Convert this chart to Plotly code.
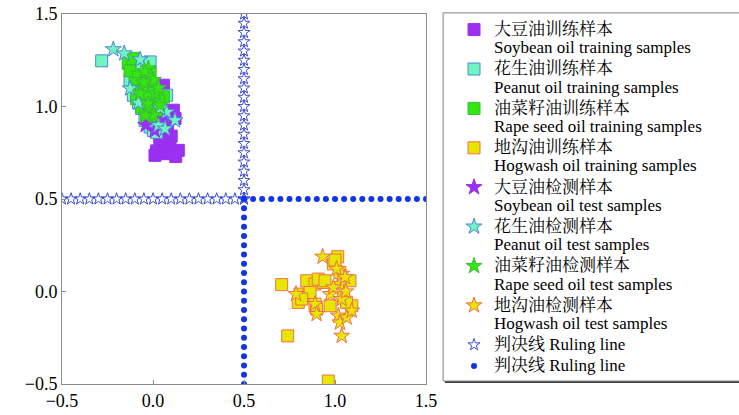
import plotly.graph_objects as go

# ---------------- data ----------------
soy_train_x = [0.057, 0.112, 0.121, 0.011, 0.038, 0.093, 0.075, 0.139, 0.011, 0.066, 0.038, 0.057, 0.100, 0.125, 0.030, 0.080, 0.020]
soy_train_y = [1.115, 0.980, 0.935, 0.889, 0.835, 0.817, 0.763, 0.763, 0.736, 0.745, 0.799, 1.070, 0.840, 0.730, 0.920, 0.900, 0.760]

pea_train_x = [-0.282, -0.126, -0.108, -0.062, -0.044, -0.016, 0.075, -0.099, -0.016, 0.002, -0.080, 0.030, 0.050, -0.030, 0.020]
pea_train_y = [1.247, 1.142, 1.061, 0.989, 0.925, 0.889, 1.061, 1.224, 1.241, 0.871, 1.020, 1.000, 0.950, 1.130, 0.860]

rape_train_x = [-0.136, -0.126, -0.081, -0.099, -0.062, -0.044, 0.057, -0.062, -0.007, -0.035, 0.020, -0.016, -0.044, 0.002, -0.090, -0.110, 0.030, -0.020]
rape_train_y = [1.233, 1.193, 1.160, 1.124, 1.088, 1.043, 1.052, 0.998, 0.998, 0.943, 0.953, 1.179, 1.124, 1.106, 1.043, 1.260, 1.030, 1.070]

hog_train_x = [0.707, 0.740, 0.963, 1.015, 0.991, 0.845, 0.890, 0.808, 0.853, 0.890, 1.082, 1.092, 0.973, 0.936, 1.046, 1.064, 0.908, 1.027, 0.798, 1.000, 0.863, 0.817, 0.899, 0.945]
hog_train_y = [0.037, -0.240, -0.484, 0.188, 0.149, 0.058, 0.040, -0.014, -0.023, -0.068, 0.058, -0.077, -0.077, 0.049, -0.032, -0.059, 0.067, 0.103, -0.059, 0.170, -0.005, -0.041, -0.095, 0.058]

soy_test_x = [-0.040, 0.010, 0.060]
soy_test_y = [0.900, 0.870, 0.930]

pea_test_x = [-0.218, -0.158, -0.071, -0.126, 0.075, 0.121, 0.029, 0.066, 0.040, -0.080]
pea_test_y = [1.309, 1.287, 1.254, 1.097, 0.970, 0.925, 0.898, 0.880, 0.990, 1.020]

rape_test_x = [-0.026, -0.046, 0.002, -0.071, 0.011, -0.026, 0.002, -0.040, 0.038, -0.050, 0.030]
rape_test_y = [1.206, 1.190, 1.142, 1.070, 1.070, 1.016, 0.953, 0.950, 1.007, 1.130, 1.100]

hog_test_x = [0.932, 1.037, 0.786, 0.890, 0.899, 0.973, 1.027, 1.037, 1.018, 1.027, 1.064, 1.092, 1.037, 1.009, 1.055, 0.991, 1.060]
hog_test_y = [0.188, -0.240, -0.014, -0.068, -0.122, -0.014, 0.040, -0.041, -0.131, -0.168, -0.141, -0.104, 0.095, 0.122, 0.077, 0.022, 0.000]

# ruling line (open stars): vertical x=0.5 for y in [0.5,1.5], horizontal y=0.5 for x in [-0.5,0.5]
rule_seg = [-0.5, -0.45, -0.4, -0.35, -0.3, -0.25, -0.2, -0.15, -0.1, -0.05, 0.0,
            0.05, 0.1, 0.15, 0.2, 0.25, 0.3, 0.35, 0.4, 0.45, 0.5]
rule_hi = [0.5, 0.55, 0.6, 0.65, 0.7, 0.75, 0.8, 0.85, 0.9, 0.95, 1.0,
           1.05, 1.1, 1.15, 1.2, 1.25, 1.3, 1.35, 1.4, 1.45, 1.5]
rule_const = [0.5] * 21

star_rule_x = rule_const + rule_seg
star_rule_y = rule_hi + rule_const
dot_rule_x = rule_hi + rule_const
dot_rule_y = rule_const + rule_seg

names = [
    ("大豆油训练样本", "Soybean oil training samples"),
    ("花生油训练样本", "Peanut oil training samples"),
    ("油菜籽油训练样本", "Rape seed oil training samples"),
    ("地沟油训练样本", "Hogwash oil training samples"),
    ("大豆油检测样本", "Soybean oil test samples"),
    ("花生油检测样本", "Peanut oil test samples"),
    ("油菜籽油检测样本", "Rape seed oil test samples"),
    ("地沟油检测样本", "Hogwash oil test samples"),
]
rule_name = "判决线 Ruling line"


def lab(cn, en=None):
    s = '<span style="font-size:17px">' + cn + '</span>'
    if en:
        s += '<br><span style="font-size:17px">' + en + '</span>'
    return s


PURPLE = "#9B30F0"
AQUA = "#6FF5C0"
AQUA_EDGE = "#4F86D8"
GREEN = "#33E610"
GREEN_EDGE = "#3CB83C"
YELLOW = "#E6E600"
YELLOW_EDGE = "#F07050"

fig = go.Figure()

series = [
    (soy_train_x, soy_train_y, "square", 12, PURPLE, PURPLE),
    (pea_train_x, pea_train_y, "square", 12, AQUA, AQUA_EDGE),
    (rape_train_x, rape_train_y, "square", 12, GREEN, GREEN_EDGE),
    (hog_train_x, hog_train_y, "square", 12, YELLOW, YELLOW_EDGE),
    (soy_test_x, soy_test_y, "star", 12, PURPLE, PURPLE),
    (pea_test_x, pea_test_y, "star", 12, AQUA, AQUA_EDGE),
    (rape_test_x, rape_test_y, "star", 12, GREEN, GREEN_EDGE),
    (hog_test_x, hog_test_y, "star", 12, YELLOW, YELLOW_EDGE),
]
for (xs, ys, sym, size, fill, edge), (cn, en) in zip(series, names):
    fig.add_trace(go.Scatter(
        x=xs, y=ys, mode="markers", name=lab(cn, en),
        marker=dict(symbol=sym, size=size, color=fill,
                    line=dict(color=edge, width=1)),
    ))

fig.add_trace(go.Scatter(
    x=star_rule_x, y=star_rule_y, mode="markers", name=lab(rule_name),
    marker=dict(symbol="star-open", size=9, color="#3A4FD0", line=dict(width=1)),
))
fig.add_trace(go.Scatter(
    x=dot_rule_x, y=dot_rule_y, mode="markers", name=lab(rule_name),
    marker=dict(symbol="circle", size=6, color="#1034E8"),
))

# legend frame (drawn as shapes, running off the right edge)
fig.add_shape(type="rect", xref="paper", yref="paper",
              x0=1.052, x1=1.95, y0=0.003, y1=0.998,
              fillcolor="#404040", line=dict(width=0), layer="above")
fig.add_shape(type="rect", xref="paper", yref="paper",
              x0=1.047, x1=1.93, y0=0.008, y1=1.003,
              fillcolor="white", line=dict(color="#808080", width=1), layer="above")

axis_common = dict(
    range=[-0.5, 1.5], tickvals=[-0.5, 0.0, 0.5, 1.0, 1.5],
    ticktext=["\u22120.5", "0.0", "0.5", "1.0", "1.5"],
    showgrid=False, zeroline=False, showline=True, mirror=True,
    linecolor="#8C8C8C", linewidth=1, ticks="inside", ticklen=4,
    tickcolor="#8C8C8C", tickfont=dict(family="Liberation Serif", size=18, color="black"),
)
fig.update_xaxes(**axis_common)
fig.update_yaxes(**axis_common)

fig.update_layout(
    width=739, height=415,
    margin=dict(l=62, r=313, t=14, b=31, autoexpand=False),
    plot_bgcolor="white", paper_bgcolor="white",
    showlegend=True,
    legend=dict(
        x=1.077, y=1.0, xanchor="left", yanchor="top",
        bgcolor="rgba(0,0,0,0)", borderwidth=0,
        font=dict(family="Liberation Serif, Noto Serif CJK SC, Noto Sans CJK SC", size=14, color="black"),
        valign="top", tracegroupgap=0, itemwidth=30,
    ),
)

fig.write_html("out.html")
